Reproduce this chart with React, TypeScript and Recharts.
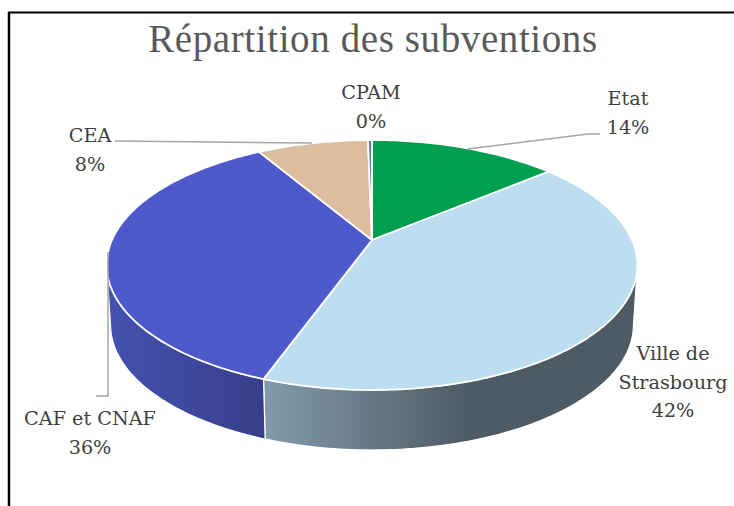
import { Pie, PieChart } from 'recharts'

const categories = ['Etat', 'Ville de\nStrasbourg', 'CAF et CNAF', 'CEA', 'CPAM']
const shares = [13.9, 41.6, 36.0, 8.2, 0.3]
const colors = ['#009e4f', '#bddef1', '#4e59cb', '#dcbd9f', '#5b7f95']
const wallFills = ['#007a3d', 'url(#wallVille)', 'url(#wallCaf)', '#a98f76', '#46626f']

const data = categories.map((name, i) => ({ name, value: shares[i], fill: colors[i] }))

// label anchor (centre x, first baseline) and leader line, by slice
const labelLayout = [
  { x: 628, y: 105, leader: '467,149 588,134 600,134' },
  { x: 673, y: 360, leader: '' },
  { x: 90, y: 425, leader: '108,252 108,396 96,396' },
  { x: 90, y: 142, leader: '115,141 312,143' },
  { x: 371, y: 99, leader: '' },
]

// perspective of the tilted disc
const TILT = 0.2
const SQUASH = 0.4615
const DEPTH = 60
const BASE_SCALE = 0.985

function project(r: number, clockDeg: number) {
  const t = (clockDeg * Math.PI) / 180
  const s = -Math.cos(t)
  const w = 1 - TILT * s
  return { x: (r * Math.sin(t)) / w, y: (r * SQUASH * s) / w, s }
}

function Slice3D(props: any) {
  const { cx, cy, outerRadius: r, startAngle, endAngle, fill, index } = props
  const from = 90 - startAngle
  const to = 90 - endAngle
  const steps = Math.max(2, Math.ceil(to - from))
  const top: string[] = []
  const wallTop: string[] = []
  const wallBottom: string[] = []
  for (let i = 0; i <= steps; i++) {
    const p = project(r, from + ((to - from) * i) / steps)
    top.push(`${cx + p.x},${cy + p.y}`)
    if (p.s >= TILT) {
      wallTop.push(`${cx + p.x},${cy + p.y}`)
      wallBottom.unshift(`${cx + p.x * BASE_SCALE},${cy + p.y + DEPTH}`)
    }
  }
  return (
    <g>
      {wallTop.length > 1 && (
        <path
          d={`M${wallTop.join('L')}L${wallBottom.join('L')}Z`}
          fill={wallFills[index]}
          stroke="#fff"
          strokeWidth={1.2}
        />
      )}
      <path d={`M${cx},${cy}L${top.join('L')}Z`} fill={fill} stroke="#fff" strokeWidth={1.8} />
    </g>
  )
}

function SliceLabel(props: any) {
  const { index, name, percent } = props
  const layout = labelLayout[index]
  const lines = [...String(name).split('\n'), `${Math.round(percent * 100)}%`]
  return (
    <g>
      {layout.leader && (
        <polyline points={layout.leader} fill="none" stroke="#a6a6a6" strokeWidth={1.5} />
      )}
      <text
        x={layout.x}
        y={layout.y}
        textAnchor="middle"
        fontFamily="'DejaVu Serif', serif"
        fontSize={19.2}
        fill="#404040"
      >
        {lines.map((line, i) => (
          <tspan key={i} x={layout.x} dy={i === 0 ? 0 : 28.7}>
            {line}
          </tspan>
        ))}
      </text>
    </g>
  )
}

export default function App() {
  return (
    <div style={{ position: 'absolute', left: 0, top: 0, width: 734, height: 506, background: '#fff' }}>
      <PieChart width={734} height={506} margin={{ top: 0, right: 0, bottom: 0, left: 0 }}>
        <defs>
          <linearGradient id="wallVille" x1="0" y1="0" x2="1" y2="0">
            <stop offset="0" stopColor="#839bab" />
            <stop offset="0.55" stopColor="#4e5a64" />
            <stop offset="1" stopColor="#4e5a64" />
          </linearGradient>
          <linearGradient id="wallCaf" x1="0" y1="0" x2="1" y2="0">
            <stop offset="0" stopColor="#4552b0" />
            <stop offset="1" stopColor="#373e8a" />
          </linearGradient>
        </defs>
        <line x1={8} y1={12.5} x2={734} y2={12.5} stroke="#000" strokeWidth={2} />
        <line x1={9} y1={12} x2={9} y2={506} stroke="#000" strokeWidth={2.5} />
        <text
          x={373}
          y={52}
          textAnchor="middle"
          fontFamily="'Liberation Serif', serif"
          fontSize={39}
          letterSpacing={0.6}
          fill="#595959"
        >
          Répartition des subventions
        </text>
        <Pie
          data={data}
          dataKey="value"
          nameKey="name"
          cx={372}
          cy={240}
          outerRadius={260}
          startAngle={90}
          endAngle={-270}
          shape={Slice3D}
          label={SliceLabel}
          labelLine={false}
          isAnimationActive={false}
        />
      </PieChart>
    </div>
  )
}
